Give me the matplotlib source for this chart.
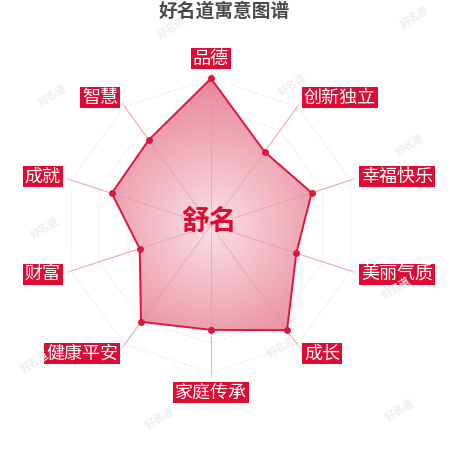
import numpy as np
import matplotlib
matplotlib.use('Agg')
import matplotlib.pyplot as plt
from matplotlib.colors import LinearSegmentedColormap
from matplotlib.patches import Polygon

plt.rcParams['font.family'] = ['Noto Sans CJK SC', 'DejaVu Sans']

# 寓意维度 (顺时针, 从顶部开始) 和得分
categories = ['品德', '创新独立', '幸福快乐', '美丽气质', '成长',
              '家庭传承', '健康平安', '财富', '成就', '智慧']
values = [100, 62, 72, 61, 88, 71, 81, 51, 71, 72]
name = '舒名'
title = '好名道寓意图谱'
rings = [20, 40, 60, 80, 100]

# 水印位置 (像素, 从左上角)
wm_x = [172, 415, 53, 293, 410, 45, 397, 35, 282, 160, 400]
wm_y = [28, 17, 95, 85, 145, 228, 288, 362, 347, 418, 410]

RED = '#de0b33'
W = H = 450
cx, cy = 211, 225.5      # 雷达中心 (像素)
scale = 1.47             # 每个分值单位对应像素

n = len(categories)
ang = np.pi / 2 - np.arange(n) * 2 * np.pi / n

fig = plt.figure(figsize=(4.5, 4.5), dpi=100)
ax = fig.add_axes([0, 0, 1, 1])
ax.set_xlim(-cx / scale, (W - cx) / scale)
ax.set_ylim(-(H - cy) / scale, cy / scale)
ax.set_aspect('equal')
ax.axis('off')

# 网格环 (虚线十边形)
for r in rings:
    gx = np.append(r * np.cos(ang), r * np.cos(ang[0]))
    gy = np.append(r * np.sin(ang), r * np.sin(ang[0]))
    ax.plot(gx, gy, ls=':', lw=0.7, color='#efd3da', zorder=1)

# 轴线
for a in ang:
    ax.plot([0, 103 * np.cos(a)], [0, 103 * np.sin(a)], lw=0.7, color='#f5c1cc', zorder=1)

# 数据多边形, 径向渐变填充
px = np.array(values) * np.cos(ang)
py = np.array(values) * np.sin(ang)
poly = Polygon(np.column_stack([px, py]), closed=True, fc='none', ec='none')
ax.add_patch(poly)
gcm = LinearSegmentedColormap.from_list('g', ['#f9e1e6', '#f1b3c0', '#e8869b'])
xx, yy = np.meshgrid(np.linspace(-105, 105, 300), np.linspace(-105, 105, 300))
rr = np.clip(np.hypot(xx, yy) / 100, 0, 1)
im = ax.imshow(rr, cmap=gcm, extent=[-105, 105, -105, 105], origin='lower',
               vmin=0, vmax=1, zorder=2, interpolation='bilinear')
im.set_clip_path(poly)

for a in ang:
    ax.plot([0, 100 * np.cos(a)], [0, 100 * np.sin(a)], lw=0.6, color='#e98da0',
            alpha=0.6, zorder=3)

ax.plot(np.append(px, px[0]), np.append(py, py[0]), color='#e0163c', lw=1.4, zorder=4)
ax.plot(px, py, 'o', color='#e0163c', ms=4, zorder=5)

# 维度标签
lr = 107.5
for lab, a in zip(categories, ang):
    c, s = np.cos(a), np.sin(a)
    ha = 'left' if c > 0.01 else ('right' if c < -0.01 else 'center')
    va = 'bottom' if s > 0.99 else ('top' if s < -0.99 else 'center')
    ax.text(lr * c, lr * s, lab, ha=ha, va=va, color='white', fontsize=13,
            zorder=6, bbox=dict(boxstyle='square,pad=0.1', fc=RED, ec='none'))

# 中心名字
ax.text(-1.4, 2.4, name, ha='center', va='center', fontsize=20, fontweight='bold',
        color=RED, zorder=6)

# 水印
for x, y in zip(wm_x, wm_y):
    fig.text(x / W, 1 - y / H, '好名道', fontsize=7.5, color='#eeeeee', rotation=32,
             ha='center', va='center', fontweight='bold', zorder=0)

fig.text(224.5 / W, 1 - 11 / H, title, ha='center', va='center', fontsize=13.5,
         fontweight='bold', color='#4a4a4a')

fig.savefig('out.png', dpi=100)
